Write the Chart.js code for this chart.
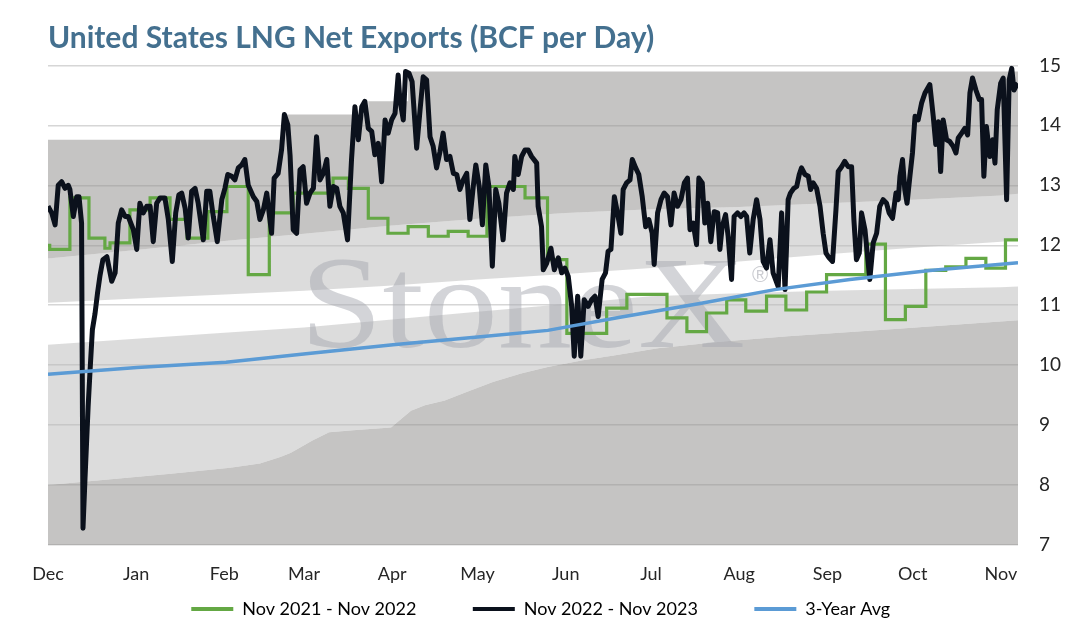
<!DOCTYPE html>
<html>
<head>
<meta charset="utf-8">
<title>United States LNG Net Exports</title>
<script src="https://cdn.jsdelivr.net/npm/chart.js@4.4.1/dist/chart.umd.min.js"></script>
<style>
    html, body { margin: 0; padding: 0; background: #ffffff; }
    #wrap { width: 1075px; height: 633px; }
</style>
</head>
<body>
<div id="wrap"><canvas id="lngChart" width="1075" height="633"></canvas></div>
<script>
// ----- DATA -----
// x values are days counted from Dec 1
const monthTickDays = [0, 31, 62, 90, 121, 151, 182, 212, 243, 274, 304, 335];
const monthLabels = ['Dec', 'Jan', 'Feb', 'Mar', 'Apr', 'May', 'Jun', 'Jul', 'Aug', 'Sep', 'Oct', 'Nov'];
const yTicks = [7, 8, 9, 10, 11, 12, 13, 14, 15];

const seriesNames = ['Nov 2021 - Nov 2022', 'Nov 2022 - Nov 2023', '3-Year Avg'];

// Nov 2022 - Nov 2023 (black)
const blackDays = [0, 1.3, 2.5, 3.6, 4.8, 6.0, 7.1, 7.7, 8.9, 10.1, 10.9, 11.8, 12.3, 13.0, 14.1, 14.8, 15.6, 16.5, 17.4, 18.3,
    19.3, 20.7, 22.4, 23.6, 24.7, 25.9, 27.1, 28.2, 30.0, 31.2, 32.3, 33.5, 34.7, 35.9, 37.0, 38.2, 39.4, 41.1, 42.3, 43.7,
    44.9, 46.0, 47.0, 48.2, 49.3, 50.5, 51.7, 52.8, 54.6, 55.8, 56.9, 58.1, 59.5, 61.1, 62.2, 63.2, 64.6, 65.7, 66.9, 68.1,
    69.2, 70.4, 72.2, 73.4, 74.5, 75.7, 76.9, 78.6, 79.5, 80.9, 82.1, 83.1, 84.3, 85.1, 86.2, 87.4, 88.6, 89.7, 90.9, 92.1,
    93.3, 94.4, 95.6, 96.8, 98.0, 99.1, 100.3, 101.5, 102.6, 103.8, 105.3, 106.7, 107.9, 109.1, 110.3, 111.4, 112.6, 113.8, 114.9, 116.1,
    117.3, 118.5, 119.6, 120.8, 122.0, 123.1, 123.7, 124.9, 125.7, 126.9, 128.0, 129.6, 130.8, 131.9, 133.1, 134.3, 135.4, 136.6, 137.8, 138.9,
    140.1, 141.3, 142.5, 143.7, 144.8, 146.0, 147.2, 148.3, 149.5, 150.4, 151.6, 152.7, 153.9, 155.0, 156.2, 157.4, 158.5, 160.0, 161.2, 162.4,
    163.6, 164.1, 165.3, 166.5, 167.7, 168.8, 170.0, 171.8, 172.3, 173.5, 174.1, 175.3, 176.8, 178.0, 179.4, 180.6, 181.7, 182.9, 184.1, 185.0,
    186.2, 187.3, 188.5, 189.9, 191.1, 192.3, 193.4, 194.8, 196.0, 196.9, 197.9, 199.1, 200.2, 201.4, 202.2, 203.4, 204.6, 205.4, 206.6, 207.7,
    208.9, 210.1, 211.2, 212.4, 213.1, 214.3, 215.5, 216.6, 217.8, 219.0, 220.1, 221.3, 222.5, 223.7, 224.8, 225.7, 226.8, 228.0, 228.8, 230.0,
    230.9, 231.9, 233.0, 234.2, 235.4, 236.2, 237.0, 238.2, 239.1, 240.3, 241.2, 242.4, 243.6, 244.7, 245.6, 246.7, 247.9, 249.1, 250.3, 251.4,
    252.6, 253.8, 254.9, 256.7, 257.9, 259.1, 260.2, 261.0, 262.2, 263.2, 264.1, 264.9, 266.1, 267.3, 268.1, 269.0, 270.2, 271.4, 272.5, 273.5,
    274.6, 275.8, 277.0, 277.8, 279.0, 280.1, 281.3, 282.5, 283.3, 284.2, 285.2, 286.0, 287.2, 288.0, 288.9, 290.1, 291.3, 292.4, 293.6, 294.8,
    295.7, 296.9, 298.1, 298.9, 299.5, 300.4, 301.2, 302.0, 303.0, 303.9, 304.8, 305.9, 307.1, 308.3, 310.0, 311.2, 312.1, 313.0, 313.8, 314.7,
    315.9, 317.0, 318.2, 319.2, 320.0, 321.2, 322.3, 323.3, 324.1, 325.0, 326.2, 327.4, 328.2, 329.0, 329.9, 331.1, 332.1, 332.9, 333.7, 334.9,
    335.8, 337.0, 337.9, 338.8, 339.6, 340.6, 341.0];
const blackValues = [12.65, 12.54, 12.34, 13.0, 13.06, 12.95, 13.0, 12.93, 12.48, 12.81, 12.81, 12.37, 7.28, 8.1, 9.3, 9.92, 10.59, 10.85, 11.2, 11.5,
    11.76, 11.81, 11.4, 11.54, 12.37, 12.59, 12.48, 12.48, 12.26, 11.93, 12.7, 12.54, 12.65, 12.65, 12.06, 12.7, 12.79, 12.79, 12.43, 11.73,
    12.54, 12.84, 12.87, 12.62, 12.12, 12.9, 12.95, 12.7, 12.09, 12.9, 12.9, 12.48, 12.06, 12.76, 12.95, 13.18, 13.15, 13.09, 13.29, 13.34,
    13.43, 13.0, 12.81, 12.73, 12.43, 12.59, 12.87, 12.2, 13.12, 13.2, 13.59, 14.18, 14.01, 13.5, 12.26, 12.2, 13.26, 13.31, 12.7, 12.87,
    12.95, 13.81, 13.09, 13.2, 13.43, 12.65, 12.98, 12.95, 12.65, 12.54, 12.09, 13.43, 14.31, 13.76, 14.31, 14.4, 13.95, 13.9, 13.51, 13.7,
    13.06, 14.09, 13.87, 14.09, 14.2, 14.84, 14.43, 14.09, 14.9, 14.87, 14.73, 13.62, 14.26, 14.81, 14.76, 13.81, 13.65, 13.29, 13.56, 13.87,
    13.43, 13.48, 13.2, 13.18, 12.93, 13.09, 13.2, 12.43, 12.98, 13.34, 12.98, 12.34, 13.34, 12.98, 11.65, 12.93, 12.7, 12.09, 12.87, 13.04,
    12.93, 13.48, 13.18, 13.48, 13.59, 13.59, 13.48, 13.37, 12.65, 12.31, 11.59, 11.7, 11.95, 11.59, 11.79, 11.54, 11.62, 11.48, 10.98, 10.15,
    11.15, 10.15, 11.09, 10.98, 11.09, 11.15, 10.81, 11.43, 11.54, 11.9, 11.93, 12.81, 12.54, 12.2, 12.93, 13.04, 13.09, 13.43, 13.29, 13.18,
    12.81, 12.31, 12.43, 12.2, 11.68, 12.54, 12.76, 12.87, 12.81, 12.34, 12.87, 12.65, 12.76, 13.04, 13.12, 12.26, 12.37, 12.01, 13.12, 13.04,
    12.37, 12.7, 12.06, 12.56, 12.54, 11.93, 12.31, 12.51, 12.15, 11.43, 12.48, 12.54, 12.48, 12.54, 12.48, 11.87, 12.43, 12.76, 12.43, 11.73,
    11.62, 12.09, 11.54, 11.31, 12.54, 11.26, 12.76, 12.87, 12.95, 12.98, 13.18, 13.29, 13.18, 13.15, 12.93, 13.04, 12.95, 12.65, 12.2, 11.87,
    11.79, 11.73, 12.59, 13.23, 13.31, 13.4, 13.31, 13.31, 12.43, 11.76, 11.87, 12.54, 12.26, 11.87, 11.43, 12.04, 12.2, 12.65, 12.76, 12.7,
    12.54, 12.45, 12.87, 12.76, 13.15, 13.43, 12.93, 12.7, 13.15, 13.54, 14.15, 14.09, 14.37, 14.54, 14.68, 14.15, 13.68, 14.06, 13.23, 14.09,
    13.76, 13.73, 13.65, 13.54, 13.79, 13.87, 13.95, 13.84, 14.54, 14.79, 14.59, 14.43, 14.43, 13.15, 13.98, 13.48, 13.76, 13.37, 14.26, 14.7,
    14.79, 12.76, 14.76, 14.95, 14.59, 14.68, 14.7];

// Nov 2021 - Nov 2022 (green, step line: each value holds until the next day listed)
const greenDays = [0, 0.6, 7.7, 14.4, 20.0, 21.8, 28.8, 35.9, 42.9, 48.9, 56.2, 62.9, 70.4, 77.8, 86.2, 100.2, 105.6, 112.6, 119.5, 126.6,
    133.7, 140.7, 147.7, 154.3, 167.7, 175.6, 182.4, 196.4, 203.5, 217.6, 224.6, 231.5, 238.6, 245.3, 252.6, 259.4, 266.7, 273.7, 287.5, 294.4,
    301.4, 308.6, 315.6, 322.7, 329.7, 336.6, 341];
const greenValues = [12.0, 11.93, 12.79, 12.12, 11.95, 12.04, 12.59, 12.79, 12.43, 12.12, 12.56, 12.98, 11.51, 12.54, 12.87, 13.12, 12.95, 12.45, 12.2, 12.31,
    12.15, 12.23, 12.15, 12.98, 12.79, 11.76, 10.53, 10.95, 11.18, 10.79, 10.56, 10.87, 11.09, 10.9, 11.15, 10.92, 11.22, 11.51, 12.02, 10.76,
    10.98, 11.58, 11.64, 11.78, 11.62, 12.09, 12.09];

// 3-Year Avg (blue)
const avgDays = [0, 31.3, 62.6, 90.7, 121.3, 151.1, 175.7, 201.1, 229.2, 255.5, 281.9, 310.0, 341];
const avgValues = [9.85, 9.96, 10.05, 10.19, 10.34, 10.47, 10.58, 10.8, 11.03, 11.26, 11.43, 11.58, 11.71];

// background range bands
const maxDays = [0, 82.7, 112.6, 126.6, 341];
const maxValues = [13.76, 14.18, 14.4, 14.9, 14.9];
const bandDays = [0, 31, 62, 90, 121, 151, 182, 212, 243, 274, 304, 335, 341];
const upperOuterValues = [11.78, 11.92, 12.07, 12.19, 12.33, 12.44, 12.54, 12.6, 12.64, 12.7, 12.76, 12.83, 12.86];
const upperInnerValues = [11.04, 11.11, 11.18, 11.24, 11.33, 11.43, 11.52, 11.62, 11.73, 11.85, 11.96, 12.06, 12.09];
const lowerInnerValues = [10.34, 10.44, 10.54, 10.63, 10.76, 10.89, 11.02, 11.15, 11.2, 11.24, 11.27, 11.3, 11.31];
const minDays = [0, 27.8, 43.2, 64.0, 74.5, 81.9, 85.4, 92.8, 98.8, 108.3, 120.6, 127.6, 132.5, 139.5, 146.9, 156.4, 166.3, 175.7, 188.0, 200.0,
    214.4, 236.2, 260.1, 296.3, 341];
const minValues = [8.0, 8.12, 8.19, 8.29, 8.36, 8.47, 8.54, 8.74, 8.88, 8.92, 8.96, 9.24, 9.33, 9.41, 9.55, 9.72, 9.86, 9.97, 10.08, 10.17,
    10.28, 10.39, 10.48, 10.6, 10.75];

const titleText = 'United States LNG Net Exports (BCF per Day)';

// ----- HELPERS -----
const pts = (days, vals) => days.map((d, i) => ({ x: d, y: vals[i] }));

const DARK_BAND = 'rgba(150,148,146,0.55)';
const LIGHT_BAND = 'rgba(185,185,185,0.5)';
const FONT = 'Lato';

function bandSet(days, vals, fill, color, stepped) {
    return {
        data: pts(days, vals), fill: fill, backgroundColor: color, borderWidth: 0,
        pointRadius: 0, stepped: !!stepped, order: 10
    };
}

// big grey brand mark behind the lines
const watermark = {
    id: 'watermark',
    beforeDatasetsDraw(chart) {
        const ctx = chart.ctx;
        ctx.save();
        ctx.font = '132px "Liberation Serif"';
        ctx.fillStyle = 'rgba(168,170,178,0.5)';
        ctx.textBaseline = 'alphabetic';
        const w = ctx.measureText('StoneX').width;
        ctx.translate(300, 347);
        ctx.scale(445 / w, 1);
        ctx.fillText('StoneX', 0, 0);
        ctx.restore();
        ctx.save();
        ctx.font = '22px "Liberation Sans"';
        ctx.fillStyle = 'rgba(168,170,178,0.6)';
        ctx.textAlign = 'center';
        ctx.textBaseline = 'middle';
        ctx.fillText('\u00AE', 760, 276);
        ctx.restore();
    }
};

// legend items are spaced wider than Chart.js does by default
const legendGap = '\u00A0'.repeat(9);
const legendTail = '\u00A0'.repeat(6);

new Chart(document.getElementById('lngChart'), {
    type: 'line',
    data: {
        datasets: [
            { label: seriesNames[0], data: pts(greenDays, greenValues), borderColor: '#64a844', backgroundColor: '#64a844',
              borderWidth: 3.2, pointRadius: 0, stepped: true, fill: false, order: 3 },
            { label: seriesNames[1], data: pts(blackDays, blackValues), borderColor: '#0b111c', backgroundColor: '#0b111c',
              borderWidth: 5, pointRadius: 0, fill: false, borderJoinStyle: 'round', order: 2 },
            { label: seriesNames[2], data: pts(avgDays, avgValues), borderColor: '#5b9bd5', backgroundColor: '#5b9bd5',
              borderWidth: 3.5, pointRadius: 0, fill: false, order: 1 },
            bandSet(maxDays, maxValues, '+1', DARK_BAND, true),
            bandSet(bandDays, upperOuterValues, '+1', LIGHT_BAND),
            bandSet(bandDays, upperInnerValues, false, 'transparent'),
            bandSet(bandDays, lowerInnerValues, '+1', LIGHT_BAND),
            bandSet(minDays, minValues, 'start', DARK_BAND)
        ]
    },
    options: {
        responsive: false,
        animation: false,
        layout: { padding: { left: 48, right: 14, top: 0, bottom: 5 } },
        elements: { line: { tension: 0 } },
        scales: {
            x: {
                type: 'linear', min: 0, max: 341,
                grid: { display: false, drawTicks: false },
                border: { display: false },
                afterFit: (axis) => { axis.height = 40; },
                afterBuildTicks: (axis) => { axis.ticks = monthTickDays.map(v => ({ value: v })); },
                ticks: {
                    autoSkip: false, maxRotation: 0, padding: 18, color: '#262626',
                    font: { family: FONT, size: 18 },
                    callback: (v) => monthLabels[monthTickDays.indexOf(v)]
                }
            },
            y: {
                position: 'right', min: yTicks[0], max: yTicks[yTicks.length - 1],
                grid: { color: '#d6d6d6', lineWidth: 1.5, drawTicks: false },
                border: { display: false },
                afterFit: (axis) => { axis.width = 43; },
                afterBuildTicks: (axis) => { axis.ticks = yTicks.map(v => ({ value: v })); },
                ticks: { padding: 21, color: '#262626', font: { family: FONT, size: 19 } }
            }
        },
        plugins: {
            filler: { drawTime: 'beforeDatasetsDraw' },
            tooltip: { enabled: false },
            title: {
                display: true, text: titleText, align: 'start', color: '#44708f',
                font: { family: FONT, size: 30, weight: 'bold' },
                padding: { top: 20, bottom: 9.4 }
            },
            legend: {
                position: 'bottom',
                labels: {
                    font: { family: FONT, size: 18 }, color: '#333333',
                    boxWidth: 42, boxHeight: 4, padding: 15,
                    generateLabels: (chart) => chart.data.datasets.slice(0, 3).map((ds, i) => ({
                        text: ds.label + (i < 2 ? legendGap : legendTail),
                        fillStyle: ds.borderColor, strokeStyle: ds.borderColor, lineWidth: 0,
                        hidden: false, datasetIndex: i
                    }))
                }
            }
        }
    },
    plugins: [watermark]
});
</script>
</body>
</html>
